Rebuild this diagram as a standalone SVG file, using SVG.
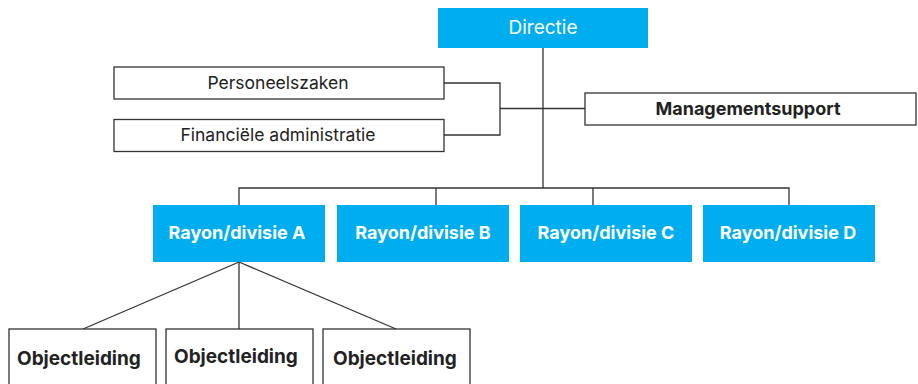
<svg xmlns="http://www.w3.org/2000/svg" width="918" height="384" viewBox="0 0 918 384">
  <style>
    text { font-family: Inter, "Noto Sans", "Liberation Sans", sans-serif; }
    .blue { fill: #00AEEF; }
    .box { fill: #ffffff; stroke: #333333; stroke-width: 1.3; }
    .wt { fill: #ffffff; font-size: 19px; text-anchor: middle; }
    .wb { fill: #ffffff; font-size: 18px; font-weight: 700; text-anchor: middle; }
    .dt { fill: #222222; font-size: 17.5px; text-anchor: middle; }
    .db { fill: #222222; font-size: 18px; font-weight: 700; }
    .ob { fill: #222222; font-size: 19px; font-weight: 700; }
    .ln { fill: none; stroke: #333333; stroke-width: 1.3; }
  </style>

  <!-- connectors -->
  <g id="connectors" class="ln">
    <path d="M543 48 V188"/>
    <path d="M444 83 H500 V135 H444"/>
    <path d="M500 108.5 H585"/>
    <path d="M239 205 V188 H789 V205"/>
    <path d="M436 188 V205"/>
    <path d="M593 188 V205"/>
    <path d="M239 262 L83 329"/>
    <path d="M239 262 V329"/>
    <path d="M239 262 L396 329"/>
  </g>

  <g id="directie">
    <rect class="blue" x="438" y="8" width="210" height="40"/>
    <text class="wt" x="543" y="34">Directie</text>
  </g>

  <g id="personeelszaken">
    <rect class="box" x="114" y="67" width="330" height="32"/>
    <text class="dt" x="278" y="89">Personeelszaken</text>
  </g>

  <g id="financiele-administratie">
    <rect class="box" x="114" y="119.5" width="330" height="32"/>
    <text class="dt" x="278" y="141">Financiële administratie</text>
  </g>

  <g id="managementsupport">
    <rect class="box" x="585" y="93" width="331" height="32"/>
    <text class="db" x="748" y="115" text-anchor="middle">Managementsupport</text>
  </g>

  <g id="rayon-a">
    <rect class="blue" x="153" y="205" width="172" height="57"/>
    <text class="wb" x="237" y="239">Rayon/divisie  A</text>
  </g>
  <g id="rayon-b">
    <rect class="blue" x="337" y="205" width="172" height="57"/>
    <text class="wb" x="423" y="239">Rayon/divisie  B</text>
  </g>
  <g id="rayon-c">
    <rect class="blue" x="520" y="205" width="172" height="57"/>
    <text class="wb" x="606" y="239">Rayon/divisie  C</text>
  </g>
  <g id="rayon-d">
    <rect class="blue" x="703" y="205" width="172" height="57"/>
    <text class="wb" x="788" y="239">Rayon/divisie D</text>
  </g>

  <g id="objectleiding-1">
    <rect class="box" x="9" y="329" width="147" height="70"/>
    <text class="ob" x="17" y="365">Objectleiding</text>
  </g>
  <g id="objectleiding-2">
    <rect class="box" x="166" y="329" width="147" height="70"/>
    <text class="ob" x="174" y="363">Objectleiding</text>
  </g>
  <g id="objectleiding-3">
    <rect class="box" x="323" y="329" width="147" height="70"/>
    <text class="ob" x="333" y="365">Objectleiding</text>
  </g>
</svg>
